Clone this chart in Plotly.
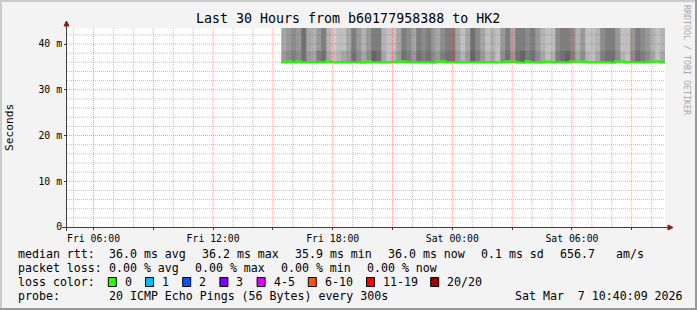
import plotly.graph_objects as go
from datetime import datetime, timedelta

# ---------------- data ----------------
title_text = "Last 30 Hours from b60177958388 to HK2"
graph_end = datetime(2026, 3, 7, 10, 40, 9)
graph_hours = 30
smoke_start = datetime(2026, 3, 6, 15, 25)
step_minutes = 15

# median rtt (ms) per 15-minute step
median_rtt = [
    36.0, 36.2, 36.0, 36.2, 36.0, 36.0, 36.0, 36.0, 36.0, 36.2,
    36.0, 36.0, 36.0, 36.0, 36.0, 36.0, 35.9, 36.2, 36.0, 36.0,
    36.0, 36.0, 36.0, 36.2, 36.2, 36.0, 36.0, 36.0, 36.0, 36.0,
    35.9, 36.2, 36.2, 36.0, 36.0, 36.0, 36.0, 36.0, 36.0, 36.0,
    36.0, 36.0, 36.0, 36.0, 36.0, 36.2, 36.2, 36.0, 35.9, 36.2,
    36.0, 36.0, 36.0, 36.2, 36.0, 36.0, 36.0, 36.0, 36.2, 36.2,
    36.2, 36.0, 36.0, 36.0, 36.0, 36.0, 35.9, 36.2, 36.2, 36.0,
    36.0, 36.0, 36.0, 36.0, 36.2, 36.2, 36.0,
]

# smoke density (0 = sparse/light .. 10 = dense/dark), near the median and above
smoke_lower = [
    6, 7, 8, 7, 9, 6, 5, 8, 9, 5,
    3, 4, 5, 6, 9, 7, 5, 7, 10, 9,
    5, 3, 4, 6, 9, 8, 6, 9, 8, 9,
    7, 6, 8, 9, 9, 6, 4, 6, 10, 8,
    6, 4, 5, 3, 7, 9, 6, 9, 10, 8,
    9, 7, 5, 3, 4, 8, 9, 10, 8, 5,
    7, 4, 3, 5, 8, 9, 9, 7, 4, 3,
    7, 9, 8, 7, 5, 3, 5,
]
smoke_upper = [
    5, 6, 7, 6, 9, 5, 4, 6, 8, 4,
    2, 3, 3, 5, 8, 6, 4, 6, 8, 8,
    4, 3, 3, 5, 8, 7, 5, 8, 7, 8,
    6, 5, 7, 8, 8, 5, 3, 5, 9, 7,
    5, 3, 4, 3, 6, 8, 5, 8, 8, 7,
    8, 6, 4, 3, 3, 7, 8, 8, 7, 4,
    6, 3, 3, 4, 7, 8, 8, 6, 3, 3,
    6, 8, 7, 6, 4, 3, 4,
]
smoke_bands_ms = [36.0, 38.5, 44.0]

y_tick_values = [0, 10, 20, 30, 40]
y_tick_labels = ["0", "10 m", "20 m", "30 m", "40 m"]
x_label_hours = 6

legend_rows = [
    [("median rtt:", 16), ("36.0 ms avg", 107), ("36.2 ms max", 200), ("35.9 ms min", 293),
     ("36.0 ms now", 386), ("0.1 ms sd", 479), ("656.7", 558), ("am/s", 614)],
    [("packet loss:", 16), ("0.00 % avg", 107), ("0.00 % max", 193), ("0.00 % min", 279),
     ("0.00 % now", 365)],
    [("loss color:", 16)],
    [("probe:", 16), ("20 ICMP Echo Pings (56 Bytes) every 300s", 107),
     ("Sat Mar  7 10:40:09 2026", 513)],
]
legend_row_y = [254, 268, 282, 296]
loss_labels = ["0", "1", "2", "3", "4-5", "6-10", "11-19", "20/20"]
loss_colors = ["#26ff00", "#00b8ff", "#0059ff", "#7e00ff", "#dd00ff", "#ff5500", "#ff0000", "#a10000"]
loss_box_x = [108.3, 145.5, 182.7, 219.9, 257.1, 308.3, 366.5, 430.7]

# ---------------- layout geometry ----------------
W, H = 697, 310
L, R, T, B = 67, 32, 28, 83
PW, PH = W - L - R, H - T - B
FONT = "DejaVu Sans Mono"


def px(x):
    return (x - L) / PW


def py(y):
    return (H - B - y) / PH


graph_start = graph_end - timedelta(hours=graph_hours)
n = len(median_rtt)
edges = [smoke_start + timedelta(minutes=step_minutes * i) for i in range(n + 1)]

fig = go.Figure()

fig.add_trace(go.Heatmap(
    x=edges, y=smoke_bands_ms, z=[smoke_lower, smoke_upper],
    zmin=0, zmax=10, zsmooth=False, showscale=False, hoverinfo="skip",
    colorscale=[[0, "rgb(232,232,232)"], [1, "rgb(100,100,100)"]],
))

fig.add_trace(go.Scatter(
    x=edges, y=median_rtt + [median_rtt[-1]], mode="lines",
    line=dict(color="#26ff00", width=2.2, shape="hv"), hoverinfo="skip",
))

shapes = []
# grid (drawn above the smoke, like rrdtool)
h = graph_start.replace(minute=0, second=0) + timedelta(hours=1)
while h < graph_end:
    major = h.hour % 3 == 0
    shapes.append(dict(type="line", xref="x", yref="paper", x0=h, x1=h, y0=0, y1=1,
                       layer="above",
                       line=dict(color="rgba(255,60,60,0.5)" if major else "rgba(120,120,120,0.45)",
                                 width=1, dash="1px,1px")))
    h += timedelta(hours=1)
for v in range(2, 44, 2):
    major = v % 10 == 0
    shapes.append(dict(type="line", xref="paper", yref="y", x0=0, x1=1, y0=v, y1=v,
                       layer="above",
                       line=dict(color="rgba(255,60,60,0.5)" if major else "rgba(120,120,120,0.45)",
                                 width=1, dash="1px,1px")))

# axes with arrows
axis_col = "#404040"
arrow_col = "#8b1a1a"
shapes.append(dict(type="line", xref="paper", yref="paper", x0=px(62), x1=px(669), y0=py(227.5), y1=py(227.5),
                   line=dict(color=axis_col, width=1), layer="above"))
shapes.append(dict(type="line", xref="paper", yref="paper", x0=px(66.5), x1=px(66.5), y0=py(231), y1=py(23),
                   line=dict(color=axis_col, width=1), layer="above"))
shapes.append(dict(type="path", xref="paper", yref="paper",
                   path=f"M {px(668)},{py(225)} L {px(673)},{py(227.5)} L {px(668)},{py(230)} Z",
                   fillcolor=arrow_col, line=dict(color=arrow_col, width=1), layer="above"))
shapes.append(dict(type="path", xref="paper", yref="paper",
                   path=f"M {px(64)},{py(26)} L {px(66.5)},{py(21)} L {px(69)},{py(26)} Z",
                   fillcolor=arrow_col, line=dict(color=arrow_col, width=1), layer="above"))

# image frame
shapes += [
    dict(type="rect", xref="paper", yref="paper", x0=px(0), x1=px(W), y0=py(0), y1=py(2),
         fillcolor="#cbcbcb", line=dict(width=0)),
    dict(type="rect", xref="paper", yref="paper", x0=px(0), x1=px(2), y0=py(0), y1=py(H),
         fillcolor="#cbcbcb", line=dict(width=0)),
    dict(type="rect", xref="paper", yref="paper", x0=px(W - 2), x1=px(W), y0=py(0), y1=py(H),
         fillcolor="#999999", line=dict(width=0)),
    dict(type="rect", xref="paper", yref="paper", x0=px(0), x1=px(W), y0=py(H - 2), y1=py(H),
         fillcolor="#999999", line=dict(width=0)),
]

# loss colour boxes
for bx, col in zip(loss_box_x, loss_colors):
    shapes.append(dict(type="rect", xref="paper", yref="paper",
                       x0=px(bx), x1=px(bx + 8), y0=py(legend_row_y[2] - 4.5), y1=py(legend_row_y[2] + 4.5),
                       fillcolor=col, line=dict(color="black", width=1)))

annotations = []


def text(s, x, y, size=11.6, anchor="left", color="black", angle=0):
    annotations.append(dict(text=s, xref="paper", yref="paper", x=px(x), y=py(y),
                            xanchor=anchor, yanchor="middle", showarrow=False, textangle=angle,
                            font=dict(family=FONT, size=size, color=color)))


text(title_text, 348, 19, size=13.3, anchor="center")
text("Seconds", 10, 128, size=11.2, anchor="center", angle=-90)
text("RRDTOOL / TOBI OETIKER", 687, 60, size=8.3, anchor="center", color="#a8a8a8", angle=90)
for row, yy in zip(legend_rows, legend_row_y):
    for s, xx in row:
        text(s.replace(" ", "\u00a0"), xx, yy)
for bx, lab in zip(loss_box_x, loss_labels):
    text(lab, bx + 14.5, legend_row_y[2])

# x ticks every 3h, labelled every 6h
tick_vals, tick_text = [], []
t = graph_start.replace(minute=0, second=0) + timedelta(hours=1)
while t < graph_end:
    if t.hour % 3 == 0:
        tick_vals.append(t)
        tick_text.append(t.strftime("%a %H:%M") if t.hour % x_label_hours == 0 else "")
    t += timedelta(hours=1)

fig.update_layout(
    width=W, height=H, margin=dict(l=L, r=R, t=T, b=B),
    paper_bgcolor="#f3f3f3", plot_bgcolor="white",
    showlegend=False, shapes=shapes, annotations=annotations,
    xaxis=dict(range=[graph_start, graph_end], tickvals=tick_vals, ticktext=tick_text,
               showgrid=False, zeroline=False, showline=False,
               ticks="outside", ticklen=2, tickcolor=axis_col,
               tickfont=dict(family=FONT, size=9.8, color="black")),
    yaxis=dict(range=[0, 43.5], tickvals=y_tick_values, ticktext=y_tick_labels,
               showgrid=False, zeroline=False, showline=False,
               ticks="outside", ticklen=2, tickcolor=axis_col,
               tickfont=dict(family=FONT, size=9.8, color="black")),
)

fig.write_html("out.html")
